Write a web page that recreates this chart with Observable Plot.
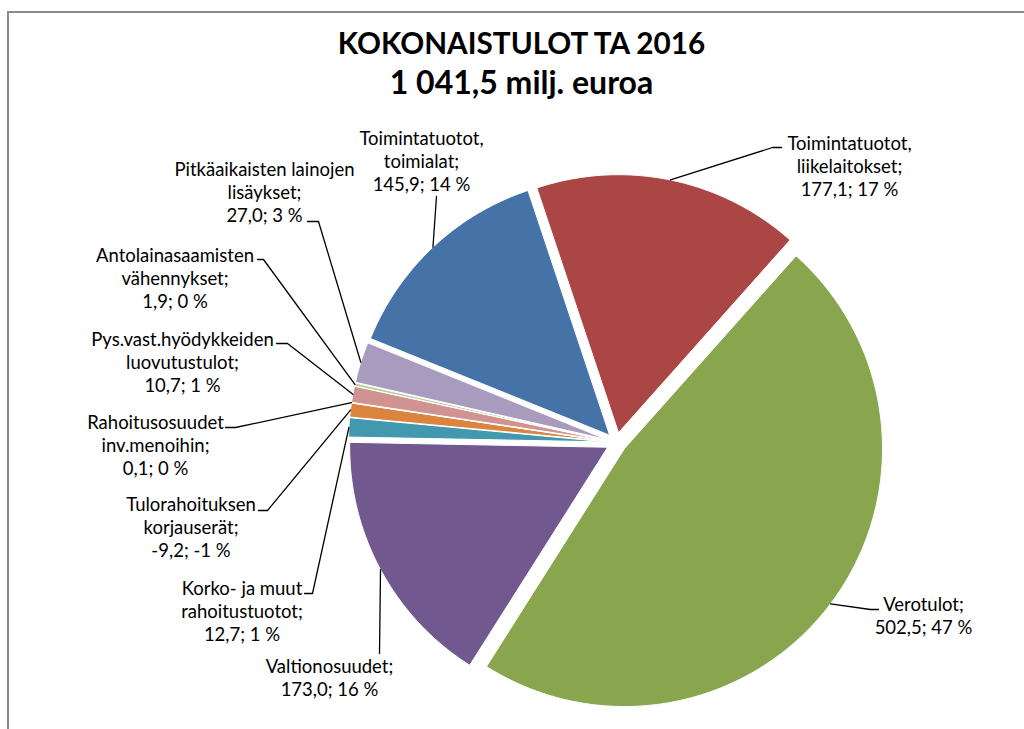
<!DOCTYPE html>
<html><head><meta charset="utf-8">
<script src="https://cdn.jsdelivr.net/npm/d3@7"></script>
<script src="https://cdn.jsdelivr.net/npm/@observablehq/plot@0.6"></script>
<style>
html,body{margin:0;padding:0;background:#fff;}
#wrap{position:relative;width:1024px;height:729px;overflow:hidden;}
#frame{position:absolute;left:7px;top:11px;right:-10px;bottom:-10px;border-top:2px solid #8a8a8a;border-left:2px solid #8a8a8a;pointer-events:none;}
</style></head>
<body><div id="wrap"><div id="frame"></div></div>
<script>
// ---- data ----
const categories = [
  "Toimintatuotot, toimialat",
  "Toimintatuotot, liikelaitokset",
  "Verotulot",
  "Valtionosuudet",
  "Korko- ja muut rahoitustuotot",
  "Tulorahoituksen korjauserät",
  "Rahoitusosuudet inv.menoihin",
  "Pys.vast.hyödykkeiden luovutustulot",
  "Antolainasaamisten vähennykset",
  "Pitkäaikaisten lainojen lisäykset"
];
const labelLines = [
  "Toimintatuotot,\ntoimialat;",
  "Toimintatuotot,\nliikelaitokset;",
  "Verotulot;",
  "Valtionosuudet;",
  "Korko- ja muut\nrahoitustuotot;",
  "Tulorahoituksen\nkorjauserät;",
  "Rahoitusosuudet\ninv.menoihin;",
  "Pys.vast.hyödykkeiden\nluovutustulot;",
  "Antolainasaamisten\nvähennykset;",
  "Pitkäaikaisten lainojen\nlisäykset;"
];
const values = [145.9, 177.1, 502.5, 173.0, 12.7, -9.2, 0.1, 10.7, 1.9, 27.0];
const percents = [14, 17, 47, 16, 1, -1, 0, 1, 0, 3];
const colors = ["#4572A7","#AA4643","#89A54E","#71588F","#4198AF","#DB843D","#93A9CF","#D19392","#B9CD96","#A99BBD"];
const titleLines = ["KOKONAISTULOT TA 2016", "1 041,5 milj. euroa"];

// ---- layout (pixels) ----
const W = 1024, H = 729;
const CX = 616, CY = 442, R = 258, EXPLODE = 10, START = 292;
const labelLayout = [
  {x: 421, y: 160, ax: 436, ay: 196, tail: 0},
  {x: 849, y: 165, ax: 772, ay: 147, tail: 9},
  {x: 923, y: 615, ax: 870, ay: 609, tail: 8},
  {x: 329, y: 677, ax: 379, ay: 653, tail: 0},
  {x: 241.5, y: 610, ax: 312, ay: 593, tail: -8},
  {x: 190.5, y: 526, ax: 267, ay: 510, tail: -9},
  {x: 155, y: 444, ax: 235, ay: 427, tail: -10},
  {x: 182, y: 361, ax: 287, ay: 343, tail: -11},
  {x: 174.5, y: 277, ax: 263, ay: 259, tail: -6},
  {x: 264, y: 191, ax: 318, ay: 221, tail: -11}
];
const titleLayout = [{x: 521, y: 43.5, size: 29.7}, {x: 521, y: 83, size: 32}];

const rad = d => d * Math.PI / 180;
const total = d3.sum(values, v => Math.abs(v));
let acc = START;
const slices = values.map((v, i) => {
  const span = Math.abs(v) / total * 360;
  const a0 = acc, a1 = acc + span; acc = a1;
  const mid = (a0 + a1) / 2;
  const cx = CX + EXPLODE * Math.sin(rad(mid)), cy = CY - EXPLODE * Math.cos(rad(mid));
  const pts = [{x: cx, y: cy}];
  const n = Math.max(2, Math.ceil(span / 0.5));
  for (let k = 0; k <= n; k++) {
    const a = a0 + span * k / n;
    pts.push({x: cx + R * Math.sin(rad(a)), y: cy - R * Math.cos(rad(a))});
  }
  pts.push({x: cx, y: cy});
  return {i, pts, edge: {x: cx + R * Math.sin(rad(mid)), y: cy - R * Math.cos(rad(mid))}};
});

const fmt = v => v.toFixed(1).replace(".", ",");
const labels = values.map((v, i) => ({
  text: `${labelLines[i]}\n${fmt(v)}; ${percents[i]} %`,
  x: labelLayout[i].x, y: labelLayout[i].y
}));
const leaders = [];
slices.forEach((s, i) => {
  const L = labelLayout[i];
  leaders.push({k: i, x: s.edge.x, y: s.edge.y});
  leaders.push({k: i, x: L.ax, y: L.ay});
  if (L.tail) leaders.push({k: i, x: L.ax + L.tail, y: L.ay});
});

const marks = [];
slices.forEach((s, i) => {
  marks.push(Plot.line(s.pts, {x: "x", y: "y", fill: colors[i], stroke: "white", strokeWidth: 1, strokeLinejoin: "round"}));
});
marks.push(Plot.line(leaders, {x: "x", y: "y", z: "k", stroke: "#000", strokeWidth: 1.3}));
marks.push(Plot.text(labels, {x: "x", y: "y", text: "text", textAnchor: "middle", lineAnchor: "middle", lineHeight: 1.24, fontSize: 18.5, fill: "#000", fontFamily: "Lato"}));
titleLines.forEach((t, i) => {
  const L = titleLayout[i];
  marks.push(Plot.text([{t, x: L.x, y: L.y}], {x: "x", y: "y", text: "t", textAnchor: "middle", lineAnchor: "middle", fontSize: L.size, fontWeight: "bold", fill: "#000", fontFamily: "Lato"}));
});

const chart = Plot.plot({
  width: W, height: H, margin: 0,
  style: {background: "transparent", fontFamily: "Lato"},
  x: {domain: [0, W], range: [0, W], axis: null},
  y: {domain: [0, H], range: [0, H], axis: null},
  marks
});
chart.style.position = "absolute";
chart.style.left = "0px";
chart.style.top = "0px";
document.getElementById("wrap").prepend(chart);
</script>
</body></html>
